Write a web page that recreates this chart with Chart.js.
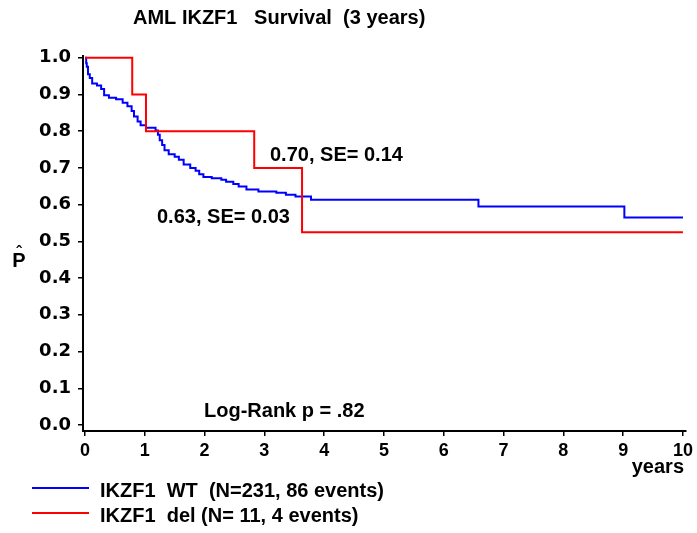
<!DOCTYPE html>
<html>
<head>
<meta charset="utf-8">
<script src="https://cdn.jsdelivr.net/npm/chart.js@4"></script>
<style>
  body { margin: 0; background: #fff; }
  #wrap { width: 697px; height: 533px; position: relative; }
</style>
</head>
<body>
<div id="wrap"><canvas id="kmChart"></canvas></div>
<script>
// Kaplan-Meier steps: time of each drop (years) and survival after it
const wtTimes = [0, 0.02, 0.03, 0.05, 0.08, 0.12, 0.2, 0.27, 0.32, 0.4, 0.52, 0.63, 0.71, 0.78, 0.82, 0.88, 0.93,
    1.02, 1.18, 1.22, 1.25, 1.29, 1.33, 1.4, 1.5, 1.57, 1.65, 1.76, 1.85, 1.91, 1.98,
    2.12, 2.28, 2.36, 2.48, 2.57, 2.7, 2.9, 3.2, 3.36, 3.52, 3.78, 6.58, 9.02, 10];
const wtSurv = [1, 0.985, 0.975, 0.955, 0.945, 0.93, 0.924, 0.915, 0.898, 0.891, 0.887, 0.877, 0.868, 0.855, 0.84, 0.826, 0.816,
    0.809, 0.802, 0.79, 0.775, 0.762, 0.748, 0.737, 0.73, 0.722, 0.709, 0.7, 0.692, 0.683, 0.675,
    0.672, 0.668, 0.662, 0.656, 0.649, 0.641, 0.636, 0.632, 0.627, 0.622, 0.613, 0.595, 0.565, 0.565];

const delTimes = [0, 0.79, 1.02, 2.83, 3.63, 10];
const delSurv = [1, 0.9, 0.8, 0.7, 0.525, 0.525];

const xTicks = [0, 1, 2, 3, 4, 5, 6, 7, 8, 9, 10];
const yTicks = [0, 0.1, 0.2, 0.3, 0.4, 0.5, 0.6, 0.7, 0.8, 0.9, 1.0];

const seriesLabels = ['IKZF1  WT  (N=231, 86 events)', 'IKZF1  del (N= 11, 4 events)'];
const seriesColors = ['#0000ff', '#ff0000'];

function toPoints(xs, ys) {
    return xs.map((x, i) => ({x: x, y: ys[i]}));
}

const textPlugin = {
    id: 'kmText',
    afterDraw(chart) {
        const ctx = chart.ctx;
        ctx.save();
        ctx.fillStyle = '#000';
        ctx.textBaseline = 'alphabetic';
        ctx.textAlign = 'left';

        ctx.font = 'bold 20px "Liberation Sans", Arial, sans-serif';
        ctx.fillText('AML IKZF1   Survival  (3 years)', 133, 24);

        ctx.fillText('0.70, SE= 0.14', 270, 161);
        ctx.fillText('0.63, SE= 0.03', 157, 223);
        ctx.fillText('Log-Rank p = .82', 204, 417);

        ctx.textAlign = 'right';
        ctx.fillText('years', 684, 473);

        // y axis label: P hat
        ctx.textAlign = 'center';
        ctx.fillText('P', 19, 267);
        ctx.font = 'bold 16px "Liberation Sans", Arial, sans-serif';
        ctx.fillText('ˆ', 19, 258);

        // legend
        ctx.textAlign = 'left';
        ctx.font = 'bold 20px "Liberation Sans", Arial, sans-serif';
        const ly = [488, 513];
        seriesLabels.forEach((lab, i) => {
            ctx.strokeStyle = seriesColors[i];
            ctx.lineWidth = 2;
            ctx.beginPath();
            ctx.moveTo(32, ly[i]);
            ctx.lineTo(89, ly[i]);
            ctx.stroke();
            ctx.fillText(lab, 100, ly[i] + 9);
        });
        ctx.restore();
    }
};

const ctx = document.getElementById('kmChart').getContext('2d');
new Chart(ctx, {
    type: 'line',
    data: {
        datasets: [{
            label: seriesLabels[1],
            data: toPoints(delTimes, delSurv),
            borderColor: seriesColors[1],
            borderWidth: 2,
            stepped: 'before',
            pointRadius: 0,
            fill: false
        }, {
            label: seriesLabels[0],
            data: toPoints(wtTimes, wtSurv),
            borderColor: seriesColors[0],
            borderWidth: 2,
            stepped: 'before',
            pointRadius: 0,
            fill: false
        }]
    },
    options: {
        responsive: true,
        maintainAspectRatio: false,
        animation: false,
        layout: {padding: {top: 56, right: 6, left: 0, bottom: 0}},
        plugins: {
            legend: {display: false},
            tooltip: {enabled: false}
        },
        scales: {
            x: {
                type: 'linear',
                min: -0.0332,
                max: 10.05,
                afterFit: s => { s.height = 102; },
                afterBuildTicks: s => { s.ticks = xTicks.map(v => ({value: v})); },
                border: {display: true, color: '#000', width: 2},
                grid: {drawOnChartArea: false, drawTicks: true, tickLength: 5, color: '#000', lineWidth: 1.5},
                ticks: {
                    color: '#000',
                    padding: 4,
                    maxRotation: 0,
                    font: {family: '"Liberation Sans", Arial, sans-serif', size: 18, weight: 'bold'}
                }
            },
            y: {
                type: 'linear',
                min: -0.0163,
                max: 1.0046,
                afterFit: s => { s.width = 83; },
                afterBuildTicks: s => { s.ticks = yTicks.map(v => ({value: v})); },
                border: {display: true, color: '#000', width: 2},
                grid: {drawOnChartArea: false, drawTicks: true, tickLength: 5, color: '#000', lineWidth: 1.5},
                ticks: {
                    color: '#000',
                    padding: 7,
                    callback: v => v.toFixed(1),
                    font: {family: '"DejaVu Sans", sans-serif', size: 18, weight: 'bold'}
                }
            }
        }
    },
    plugins: [textPlugin]
});
</script>
</body>
</html>
